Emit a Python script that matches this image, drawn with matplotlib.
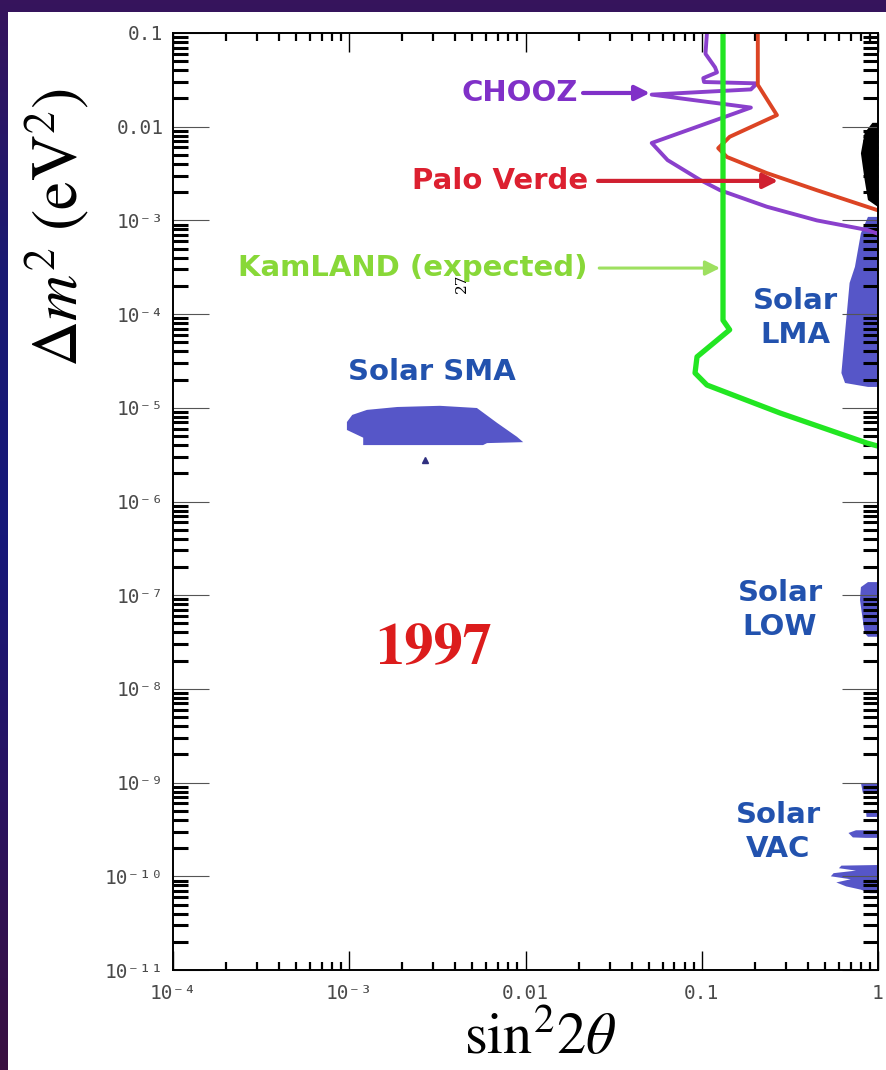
#!/usr/bin/env python3
"""Reactor / solar neutrino oscillation exclusion plot, 1997 version."""
import numpy as np
import matplotlib
matplotlib.use("Agg")
import matplotlib.pyplot as plt
from matplotlib.colors import LinearSegmentedColormap
from matplotlib.patches import Rectangle
from matplotlib.ticker import LogLocator, NullFormatter

plt.rcParams["mathtext.fontset"] = "stix"

W, H = 886, 1070

# ---- exclusion contours (sin^2 2theta, dm^2 in eV^2) ----
chooz_x = [0.107, 0.105, 0.119, 0.122, 0.102, 0.103, 0.206, 0.19, 0.052,
           0.19, 0.052, 0.064, 0.098, 0.127, 0.234, 0.45, 0.87, 1.0]
chooz_y = [0.1, 0.060, 0.043, 0.038, 0.033, 0.030, 0.029, 0.025, 0.022,
           0.016, 0.0067, 0.0044, 0.0027, 0.0021, 0.0014, 0.0010, 0.00079,
           0.00072]

paloverde_x = [0.208, 0.208, 0.267, 0.144, 0.124, 0.139, 0.234, 0.45, 1.0]
paloverde_y = [0.1, 0.028, 0.0133, 0.0078, 0.0059, 0.00475, 0.0032, 0.0021,
               0.00128]

kamland_x = [0.132, 0.132, 0.144, 0.094, 0.0916, 0.107, 0.278, 0.867, 1.0]
kamland_y = [0.1, 8.6e-5, 6.8e-5, 3.5e-5, 2.35e-5, 1.75e-5, 8.8e-6, 4.2e-6,
             3.9e-6]

# ---- solar allowed regions ----
sma_x = [9.7e-4, 1.04e-3, 1.26e-3, 1.87e-3, 3.27e-3, 5.3e-3, 6.9e-3, 8.95e-3,
         9.7e-3, 6.05e-3, 5.74e-3, 1.20e-3, 1.20e-3, 9.7e-4]
sma_y = [7.05e-6, 8.4e-6, 9.5e-6, 1.02e-5, 1.05e-5, 9.95e-6, 6.9e-6, 4.9e-6,
         4.3e-6, 4.2e-6, 4.0e-6, 4.0e-6, 4.8e-6, 5.8e-6]
sma_dot = (2.69e-3, 2.8e-6)

lma_x = [1.0, 0.877, 0.80, 0.74, 0.69, 0.65, 0.62, 0.65, 0.877, 1.0]
lma_y = [1.09e-3, 1.09e-3, 7.3e-4, 3.2e-4, 2.15e-4, 6.3e-5, 2.35e-5, 1.84e-5,
         1.67e-5, 1.67e-5]

black_x = [1.0, 0.93, 0.84, 0.80, 0.84, 0.877, 1.0]
black_y = [0.011, 0.011, 0.0086, 0.0052, 0.0027, 0.00165, 0.00139]

low_x = [1.0, 0.877, 0.80, 0.79, 0.84, 0.877, 1.0]
low_y = [1.38e-7, 1.38e-7, 1.22e-7, 8.9e-8, 3.95e-8, 3.6e-8, 3.6e-8]

vac_x = [
    [1.0, 0.80, 0.82, 1.0],
    [1.0, 0.855, 0.86, 1.0],
    [1.0, 0.75, 0.68, 0.72, 0.85, 1.0],
    [1.0, 0.62, 0.60, 0.75, 0.56, 0.54, 0.70, 0.58, 0.66, 0.80, 0.90, 1.0],
]
vac_y = [
    [9.9e-10, 9.9e-10, 7.8e-10, 7.8e-10],
    [5.1e-10, 5.1e-10, 4.3e-10, 4.3e-10],
    [3.1e-10, 3.1e-10, 2.9e-10, 2.6e-10, 2.57e-10, 2.57e-10],
    [1.32e-10, 1.30e-10, 1.22e-10, 1.15e-10, 1.08e-10, 1.0e-10, 9.3e-11,
     8.6e-11, 7.8e-11, 7.2e-11, 6.6e-11, 6.6e-11],
]

xticks = [1e-4, 1e-3, 1e-2, 1e-1, 1]
xticklabels = ["10⁻⁴", "10⁻³", "0.01", "0.1", "1"]
yticks = [1e-11, 1e-10, 1e-9, 1e-8, 1e-7, 1e-6, 1e-5, 1e-4, 1e-3, 1e-2, 1e-1]
yticklabels = ["10⁻¹¹", "10⁻¹⁰", "10⁻⁹", "10⁻⁸", "10⁻⁷", "10⁻⁶", "10⁻⁵",
               "10⁻⁴", "10⁻³", "0.01", "0.1"]

PURPLE = "#8a40cc"
RED = "#dc4424"
GREEN = "#22e622"
SOLAR = "#5656c8"
SOLAR_TXT = "#2252ae"

fig = plt.figure(figsize=(W / 100, H / 100), dpi=100)

# slide background: dark purple/blue gradient with a white panel on it
bg = fig.add_axes([0, 0, 1, 1], zorder=-10)
cmap = LinearSegmentedColormap.from_list(
    "slide", ["#3a1040", "#2a1360", "#16187a", "#1a1a72", "#36145c"])
bg.imshow(np.linspace(1, 0, 256).reshape(-1, 1), cmap=cmap, aspect="auto",
          extent=[0, 1, 0, 1])
bg.add_patch(Rectangle((8 / W, 0), 1, 1 - 12 / H, transform=bg.transAxes,
                       facecolor="white", edgecolor="none"))
bg.set_xlim(0, 1)
bg.set_ylim(0, 1)
bg.axis("off")

ax = fig.add_axes([173 / W, 1 - 970 / H, 705 / W, 937 / H])
ax.set_xscale("log")
ax.set_yscale("log")
ax.set_xlim(1e-4, 1)
ax.set_ylim(1e-11, 0.1)
ax.patch.set_alpha(0)

# solar regions
ax.fill(sma_x, sma_y, color=SOLAR, lw=0)
ax.plot(*sma_dot, marker="^", ms=4, color="#303080")
ax.fill(lma_x, lma_y, color=SOLAR, lw=0)
ax.fill(low_x, low_y, color=SOLAR, lw=0)
for vx, vy in zip(vac_x, vac_y):
    ax.fill(vx, vy, color=SOLAR, lw=0)
ax.fill(black_x, black_y, color="black", lw=0)

# reactor contours
ax.plot(chooz_x, chooz_y, color=PURPLE, lw=2.8, solid_joinstyle="round")
ax.plot(paloverde_x, paloverde_y, color=RED, lw=2.8, solid_joinstyle="round")
ax.plot(kamland_x, kamland_y, color=GREEN, lw=3.8, solid_joinstyle="round")

# labels + arrows
lbl = dict(fontsize=21, fontweight="bold", family="DejaVu Sans",
           ha="center", va="center")
ax.text(9.3e-3, 0.0229, "CHOOZ", color="#8030c8", **lbl)
ax.annotate("", xy=(0.0508, 0.0229), xytext=(0.0212, 0.0229),
            arrowprops=dict(arrowstyle="-|>", color="#8030c8", lw=3,
                            mutation_scale=22, shrinkA=0, shrinkB=0))
ax.text(7.2e-3, 2.64e-3, "Palo Verde", color="#dc2030", **lbl)
ax.annotate("", xy=(0.271, 2.64e-3), xytext=(0.0258, 2.64e-3),
            arrowprops=dict(arrowstyle="-|>", color="#d02030", lw=3,
                            mutation_scale=22, shrinkA=0, shrinkB=0))
ax.text(2.3e-3, 3.1e-4, "KamLAND (expected)", color="#88d838", **lbl)
ax.annotate("", xy=(0.127, 3.1e-4), xytext=(0.0262, 3.1e-4),
            arrowprops=dict(arrowstyle="-|>", color="#9ee060", lw=2.2,
                            mutation_scale=22, shrinkA=0, shrinkB=0))

ax.text(2.95e-3, 2.4e-5, "Solar SMA", color=SOLAR_TXT, **lbl)
ax.text(0.338, 9.1e-5, "Solar\nLMA", color=SOLAR_TXT, linespacing=1.25, **lbl)
ax.text(0.278, 6.95e-8, "Solar\nLOW", color=SOLAR_TXT, linespacing=1.25, **lbl)
ax.text(0.271, 2.97e-10, "Solar\nVAC", color=SOLAR_TXT, linespacing=1.25, **lbl)

ax.text(3.0e-3, 2.6e-8, "1997", color="#dc1c1c", fontsize=42,
        fontweight="bold", family="STIXGeneral", ha="center", va="center")
# stray page number printed over the label in the original slide
ax.text(4.37e-3, 2.15e-4, "27", fontsize=11, family="DejaVu Serif",
        rotation=90, ha="center", va="center")

# axes cosmetics
for s in ax.spines.values():
    s.set_linewidth(1.4)
ax.xaxis.set_minor_locator(LogLocator(base=10, subs=np.arange(2, 10)))
ax.yaxis.set_minor_locator(LogLocator(base=10, subs=np.arange(2, 10), numticks=20))
ax.xaxis.set_minor_formatter(NullFormatter())
ax.yaxis.set_minor_formatter(NullFormatter())
ax.set_xticks(xticks)
ax.set_xticklabels(xticklabels)
ax.set_yticks(yticks)
ax.set_yticklabels(yticklabels)
ax.tick_params(which="both", direction="in", top=True, right=True)
ax.tick_params(axis="x", which="major", length=14, width=1.0, pad=10,
               labelsize=14, labelcolor="#4a4a4a")
ax.tick_params(axis="x", which="minor", length=6, width=1.6)
ax.tick_params(axis="y", which="major", length=26, width=0.8, pad=7,
               labelsize=14, labelcolor="#4a4a4a", color="#555555")
ax.tick_params(axis="y", which="minor", length=11, width=2.2)
for t in ax.get_xticklabels() + ax.get_yticklabels():
    t.set_family("DejaVu Sans Mono")

fig.text(57 / W, 1 - 228 / H, r"$\Delta m^2\ (\mathrm{eV}^2)$", rotation=90,
         fontsize=46, ha="center", va="center")
fig.text(540 / W, 1 - 1066 / H, r"$\mathrm{sin}^2 2\theta$", fontsize=42,
         ha="center", va="bottom")

fig.savefig("out.png", dpi=100)
